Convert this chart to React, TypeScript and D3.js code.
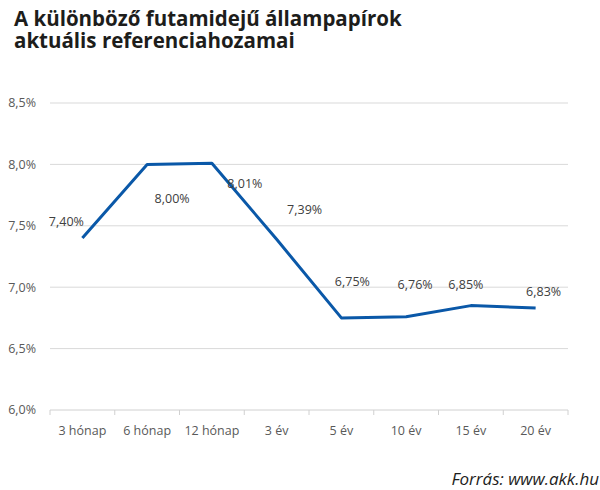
import React from "react";
import * as d3 from "d3";

const categories = ["3 hónap", "6 hónap", "12 hónap", "3 év", "5 év", "10 év", "15 év", "20 év"];
const yields = [7.40, 8.00, 8.01, 7.39, 6.75, 6.76, 6.85, 6.83];
const yTicks = [6.0, 6.5, 7.0, 7.5, 8.0, 8.5];
const titleLines = ["A különböző futamidejű állampapírok", "aktuális referenciahozamai"];
const labelOffsets: [number, number][] = [
  [-16, -16], [25, 34], [33, 20], [28, -30], [11, -36], [9, -32], [-5, -21], [8, -16],
];

const W = 600, H = 490;
const left = 50, right = 568, top = 103, bottom = 410;

const fmt = (v: number, d: number) => v.toFixed(d).replace(".", ",") + "%";

export default function App() {
  const x = d3.scaleBand<string>().domain(categories).range([left, right]);
  const y = d3.scaleLinear().domain([6.0, 8.5]).range([bottom, top]);
  const line = d3.line<number>()
    .x((_, i) => (x(categories[i]) as number) + x.bandwidth() / 2)
    .y((d) => y(d));
  const font = "'Open Sans', 'Noto Sans', sans-serif";
  const edges = categories.map((c) => x(c) as number).concat([right]);
  return (
    <svg width={W} height={H} style={{ position: "absolute", left: 0, top: 0, background: "#fff" }}>
      <text x={14} y={26} fontFamily="'Open Sans', sans-serif" fontWeight={700} fontSize={20.5} fill="#1d1d1b">
        {titleLines.map((t, i) => (
          <tspan key={i} x={14} dy={i === 0 ? 0 : 22}>{t}</tspan>
        ))}
      </text>
      {yTicks.map((t) => (
        <g key={t}>
          {t > 6.0 && (
            <line x1={left} x2={right} y1={y(t)} y2={y(t)} stroke="#d9d9d9" strokeWidth={1} />
          )}
          <text x={36} y={y(t)} dy="0.35em" textAnchor="end" fontFamily={font} fontSize={12.5} fill="#595959">
            {fmt(t, 1)}
          </text>
        </g>
      ))}
      <line x1={left} x2={right} y1={bottom} y2={bottom} stroke="#d0d0d0" strokeWidth={1} />
      {edges.map((e, i) => (
        <line key={i} x1={e} x2={e} y1={bottom} y2={bottom + 5} stroke="#d0d0d0" strokeWidth={1} />
      ))}
      {categories.map((c) => (
        <text key={c} x={(x(c) as number) + x.bandwidth() / 2} y={431} dy="0.35em" textAnchor="middle"
          fontFamily={font} fontSize={12.5} fill="#595959">
          {c}
        </text>
      ))}
      <path d={line(yields) || ""} fill="none" stroke="#0a58a8" strokeWidth={3} strokeLinejoin="round" />
      {yields.map((v, i) => (
        <text key={i}
          x={(x(categories[i]) as number) + x.bandwidth() / 2 + labelOffsets[i][0]}
          y={y(v) + labelOffsets[i][1]} dy="0.35em" textAnchor="middle"
          fontFamily={font} fontSize={12.5} fill="#404040">
          {fmt(v, 2)}
        </text>
      ))}
      <text x={599} y={485} textAnchor="end" fontFamily="'Open Sans', sans-serif" fontStyle="italic"
        fontSize={17} fill="#1d1d1b">
        Forrás: www.akk.hu
      </text>
    </svg>
  );
}
